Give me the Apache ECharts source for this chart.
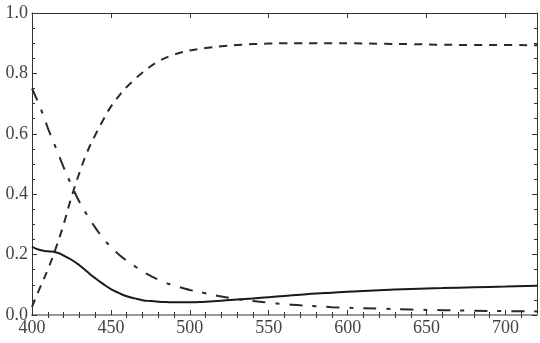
<!DOCTYPE html>
<html>
<head>
<meta charset="utf-8">
<script src="https://cdn.jsdelivr.net/npm/echarts@6/dist/echarts.min.js"></script>
<style>
  html, body { margin: 0; padding: 0; background: #fff; }
  #chart { width: 540px; height: 343px; }
</style>
</head>
<body>
<div id="chart"></div>
<script>
// wavelength samples (nm)
var wavelength = [400, 405, 410, 415, 420, 425, 430, 435, 440, 445, 450, 455, 460, 465, 470, 475, 480, 485, 490, 495,
  500, 510, 520, 530, 540, 550, 560, 570, 580, 590, 600, 620, 640, 660, 680, 700, 720];
// rising curve (dashed)
var dashedVals = [0.027, 0.09, 0.15, 0.22, 0.30, 0.39, 0.47, 0.54, 0.595, 0.645, 0.69, 0.725, 0.755, 0.78, 0.803, 0.823, 0.839, 0.852, 0.862, 0.870,
  0.876, 0.884, 0.890, 0.894, 0.897, 0.899, 0.900, 0.900, 0.900, 0.900, 0.900, 0.898, 0.897, 0.895, 0.894, 0.894, 0.893];
// falling curve (dash-dot)
var dashDotVals = [0.75, 0.69, 0.62, 0.555, 0.49, 0.43, 0.375, 0.33, 0.29, 0.255, 0.225, 0.20, 0.18, 0.162, 0.145, 0.13, 0.117, 0.106, 0.097, 0.09,
  0.083, 0.072, 0.061, 0.053, 0.046, 0.041, 0.036, 0.032, 0.029, 0.026, 0.024, 0.021, 0.018, 0.016, 0.014, 0.013, 0.012];
// dip curve (solid)
var solidVals = [0.226, 0.215, 0.211, 0.208, 0.197, 0.183, 0.165, 0.143, 0.122, 0.103, 0.086, 0.073, 0.062, 0.055, 0.049, 0.046, 0.044, 0.043, 0.042, 0.042,
  0.042, 0.044, 0.047, 0.051, 0.055, 0.059, 0.063, 0.067, 0.071, 0.074, 0.077, 0.082, 0.086, 0.089, 0.092, 0.094, 0.097];

var xMajor = [400, 450, 500, 550, 600, 650, 700];
var xMinor = [410, 420, 430, 440, 460, 470, 480, 490, 510, 520, 530, 540, 560, 570, 580, 590,
  610, 620, 630, 640, 660, 670, 680, 690, 710];

function pairs(ys) {
  return wavelength.map(function (x, i) { return [x, ys[i]]; });
}

var labelStyle = {
  fontFamily: 'Liberation Serif',
  fontSize: 18,
  color: '#444'
};
var frameLine = { color: '#333', width: 1 };

function xAxisOf(position, ticks, len, withLine, withLabel) {
  return {
    type: 'value',
    position: position,
    min: 400,
    max: 720,
    splitLine: { show: false },
    axisLine: withLine ? { show: true, onZero: false, lineStyle: withLine } : { show: false },
    axisTick: { show: true, inside: true, length: len, customValues: ticks, lineStyle: { color: '#333', width: 1 } },
    axisLabel: withLabel ? Object.assign({ show: true, margin: 4, customValues: ticks }, labelStyle) : { show: false }
  };
}

function yAxisOf(position, withLabel) {
  return {
    type: 'value',
    position: position,
    min: 0,
    max: 1,
    interval: 0.2,
    splitLine: { show: false },
    axisLine: { show: true, onZero: false, lineStyle: frameLine },
    axisTick: { show: true, inside: true, length: 5, lineStyle: { color: '#333' } },
    minorTick: { show: true, splitNumber: 4, length: 3, lineStyle: { color: '#333' } },
    minorSplitLine: { show: false },
    axisLabel: withLabel ? Object.assign({
      show: true, margin: 4,
      formatter: function (v) { return v.toFixed(1); }
    }, labelStyle) : { show: false }
  };
}

var chart = echarts.init(document.getElementById('chart'), null, { renderer: 'canvas' });
chart.setOption({
  animation: false,
  backgroundColor: '#fff',
  grid: { left: 32, right: 3, top: 13, bottom: 28 },
  xAxis: [
    xAxisOf('bottom', xMajor, 5, { color: '#999', width: 2 }, true),
    xAxisOf('bottom', xMinor, 3, null, false),
    xAxisOf('top', xMajor, 5, frameLine, false),
    xAxisOf('top', xMinor, 3, null, false)
  ],
  yAxis: [
    yAxisOf('left', true),
    yAxisOf('right', false)
  ],
  series: [{
    type: 'line',
    data: pairs(dashedVals),
    symbol: 'none',
    smooth: 0.5,
    lineStyle: { color: '#2a2a2a', width: 2, type: [8, 7] }
  }, {
    type: 'line',
    data: pairs(dashDotVals),
    symbol: 'none',
    smooth: 0.5,
    lineStyle: { color: '#2a2a2a', width: 2, type: [13, 10, 4, 10] }
  }, {
    type: 'line',
    data: pairs(solidVals),
    symbol: 'none',
    smooth: 0.5,
    lineStyle: { color: '#1a1a1a', width: 2 }
  }]
});
</script>
</body>
</html>
